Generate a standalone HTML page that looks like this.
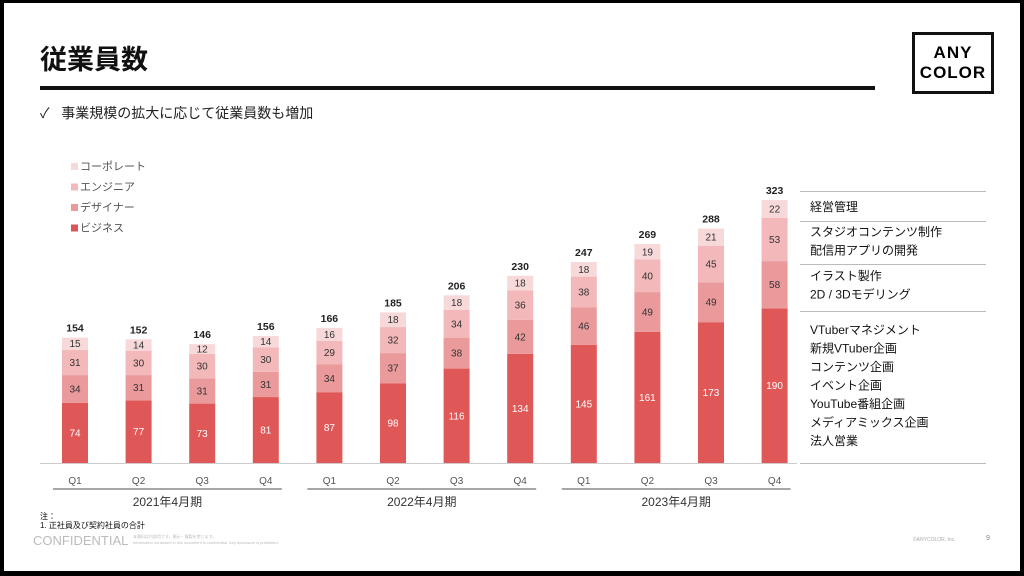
<!DOCTYPE html>
<html><head><meta charset="utf-8">
<style>
body{margin:0;width:1024px;height:576px;overflow:hidden;background:#000;font-family:"Liberation Sans","Noto Sans CJK JP",sans-serif}
#page{position:absolute;left:4px;top:3px;width:1016px;height:568px;background:#fff}
.t{position:absolute;white-space:nowrap}
</style></head><body>
<div id="page"></div>
<div class="t" style="left:40px;top:38px;font-size:27px;font-weight:bold;color:#111">従業員数</div>
<div style="position:absolute;left:40px;top:86px;width:835px;height:4px;background:#111"></div>
<div style="position:absolute;left:912px;top:32px;width:76px;height:56px;border:3px solid #111;font-weight:bold;font-size:17px;line-height:20px;text-align:center;padding-top:0;letter-spacing:1px"><div style="margin-top:8px">ANY</div><div>COLOR</div></div>
<div class="t" style="left:40px;top:103px;font-size:14px;color:#222">✓&nbsp;&nbsp;&nbsp;事業規模の拡大に応じて従業員数も増加</div>
<svg id="chart" width="1024" height="576" style="position:absolute;left:0;top:0"></svg>
<div class="t" style="left:40px;top:512px;font-size:8px;line-height:9px;color:#111">注：<br>1. 正社員及び契約社員の合計</div>
<div class="t" style="left:33px;top:533px;font-size:13px;color:#bbb">CONFIDENTIAL</div>
<div class="t" style="left:133px;top:534px;font-size:4px;line-height:6px;color:#bbb">本資料は内部用です。開示・複製を禁じます。<br>Information contained in this document is confidential. Any disclosure is prohibited.</div>
<div class="t" style="left:913px;top:537px;font-size:5px;color:#aaa">©ANYCOLOR, Inc.</div>
<div class="t" style="left:986px;top:535px;font-size:7px;color:#888">9</div>
<script>
const quarters=["Q1","Q2","Q3","Q4","Q1","Q2","Q3","Q4","Q1","Q2","Q3","Q4"];
const business=[74,77,73,81,87,98,116,134,145,161,173,190];
const designer=[34,31,31,31,34,37,38,42,46,49,49,58];
const engineer=[31,30,30,30,29,32,34,36,38,40,45,53];
const corporate=[15,14,12,14,16,18,18,18,18,19,21,22];
const years=["2021年4月期","2022年4月期","2023年4月期"];
const seriesNames=["コーポレート","エンジニア","デザイナー","ビジネス"];
const NS="http://www.w3.org/2000/svg";
const svg=document.getElementById('chart');
const base=463, k=0.814, x0=75, step=63.6, bw=26;
const xs=i=>x0+i*step, ys=v=>v*k;
function mk(tag,at,txt){const e=document.createElementNS(NS,tag);for(const a in at)e.setAttribute(a,at[a]);if(txt!==undefined)e.textContent=txt;svg.appendChild(e);return e;}
const series=[[business,"#e05757","business"],[designer,"#eb9a9c","designer"],[engineer,"#f3b8b9","engineer"],[corporate,"#f8d9da","corporate"]];
const fnt='"Liberation Sans","Noto Sans CJK JP",sans-serif';
quarters.forEach((q,i)=>{
  let y=base;
  series.forEach(([arr,col,nm],si)=>{
    const h=ys(arr[i]);y-=h;
    const r=mk('rect',{x:xs(i)-bw/2,y:y,width:bw,height:h,fill:col});
    
    
    const t=mk('text',{x:xs(i),y:y+h/2+3.5,'text-anchor':'middle','font-size':10,fill:si==0?'#fff':'#333','font-family':fnt},arr[i]);
    
    
  });
  const tot=business[i]+designer[i]+engineer[i]+corporate[i];
  const tt=mk('text',{x:xs(i),y:y-6,'text-anchor':'middle','font-size':10.5,'font-weight':'bold',fill:'#222','font-family':fnt},tot);
  
  
  const ql=mk('text',{x:xs(i),y:484,'text-anchor':'middle','font-size':10,fill:'#555','font-family':fnt},q);
  
  
});
const ax=mk('line',{x1:40,x2:797,y1:base+0.5,y2:base+0.5,stroke:'#ccc'});


years.forEach((yr,g)=>{
  const a=xs(g*4)-22,b=xs(g*4+3)+16;
  const l=mk('line',{x1:a,x2:b,y1:489,y2:489,stroke:'#888','stroke-width':1.5});
  
  
  const t=mk('text',{x:(a+b)/2,y:506,'text-anchor':'middle','font-size':12,fill:'#333','font-family':fnt},yr);
  
  
});
const legCols=["#f8d9da","#f3b8b9","#eb9a9c","#d9555a"];
seriesNames.forEach((n,i)=>{
  const r=mk('rect',{x:71,y:163+i*20.5,width:7,height:7,fill:legCols[i]});
  
  
  const t=mk('text',{x:80,y:170+i*20.5,'font-size':11,fill:'#555','font-family':fnt},n);
  
  
});
[191,221,264,311,463].forEach(y=>{const l=mk('line',{x1:800,x2:986,y1:y+0.5,y2:y+0.5,stroke:'#bbb'});});
const notes=[[211,["経営管理"]],[236,["スタジオコンテンツ制作","配信用アプリの開発"]],[280,["イラスト製作","2D / 3Dモデリング"]],[334,["VTuberマネジメント","新規VTuber企画","コンテンツ企画","イベント企画","YouTube番組企画","メディアミックス企画","法人営業"]]];
notes.forEach(([y,ls])=>ls.forEach((s,j)=>{const t=mk('text',{x:810,y:y+j*18.5,'font-size':12,fill:'#111','font-family':fnt},s);}));
</script>
</body></html>
